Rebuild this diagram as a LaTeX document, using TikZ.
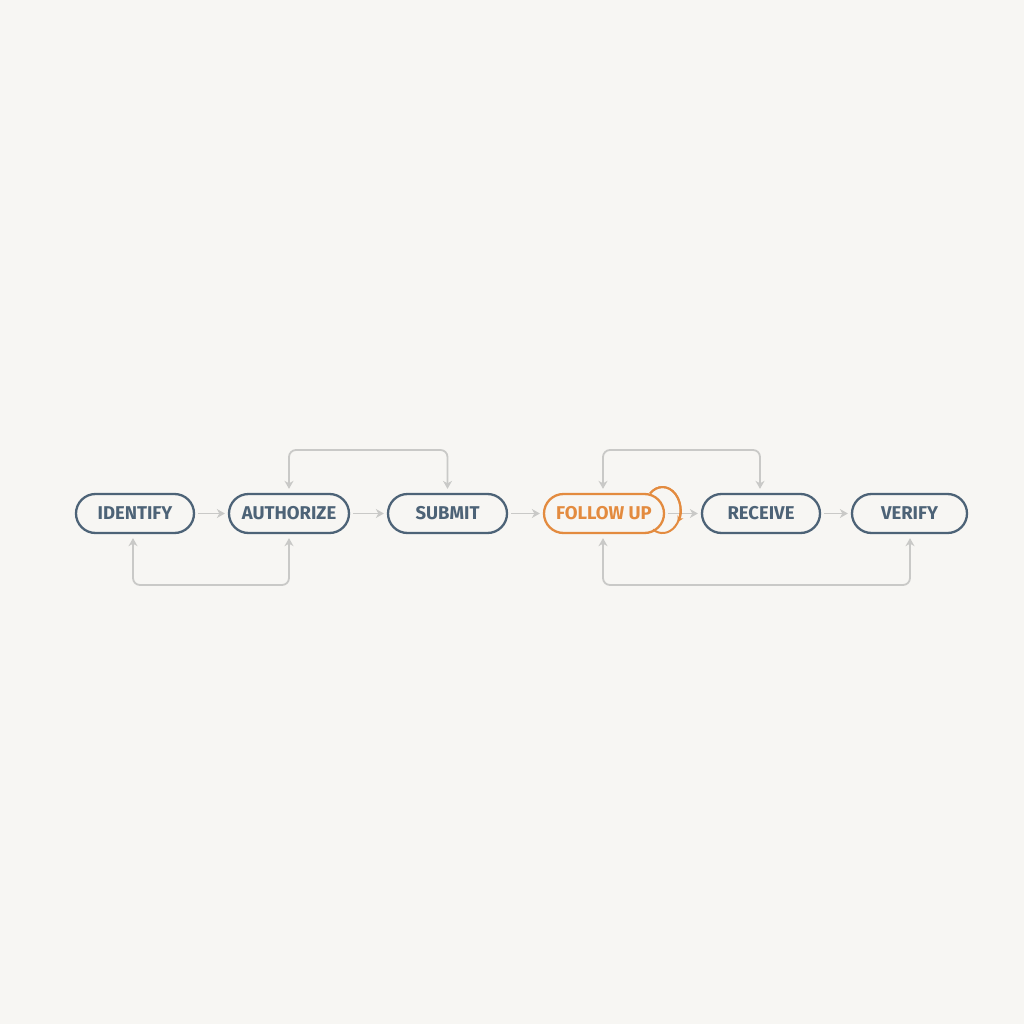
\documentclass[tikz,border=0pt]{standalone}
\usepackage{fontspec}
\setmainfont{Fira Sans}
\usetikzlibrary{arrows.meta}
\definecolor{bg}{HTML}{F7F6F3}
\definecolor{slate}{HTML}{4D6377}
\definecolor{accent}{HTML}{E38B3F}
\definecolor{conn}{HTML}{C9C9C7}
\tikzset{
  stepbox/.style={draw=slate, line width=2.3pt, rounded corners=19.5pt, fill=bg,
    minimum height=39pt, inner sep=0pt, text=slate, font=\fontsize{18.5}{20}\selectfont\bfseries},
  hot/.style={stepbox, draw=accent, text=accent},
  tip/.style={Stealth[length=8pt,width=9pt,inset=2.5pt]},
  flow/.style={draw=conn, line width=1.8pt, -{Stealth[length=8pt,width=9pt,inset=2.5pt]}, shorten <=3pt, shorten >=3pt},
  loop2/.style={draw=conn, line width=1.8pt, {Stealth[length=8pt,width=9pt,inset=2.5pt]}-{Stealth[length=8pt,width=9pt,inset=2.5pt]}, rounded corners=7pt, shorten <=4pt, shorten >=4pt}
}
\begin{document}
\begin{tikzpicture}[x=1pt,y=-1pt]
\path[fill=bg] (0,0) rectangle (1024,1024);
\useasboundingbox (0,0) rectangle (1024,1024);
\node[stepbox, minimum width=118pt] (ident) at (135,513.5) {IDENTIFY};
\node[stepbox, minimum width=120pt] (auth) at (289,513.5) {AUTHORIZE};
\node[stepbox, minimum width=119pt] (submit) at (447.5,513.5) {SUBMIT};
\node[hot, minimum width=120pt] (follow) at (604,513.5) {FOLLOW UP};
\node[stepbox, minimum width=118pt] (receive) at (761,513.5) {RECEIVE};
\node[stepbox, minimum width=115pt] (verify) at (909.5,513.5) {VERIFY};
% straight flow
\draw[flow] (ident) -- (auth);
\draw[flow] (auth) -- (submit);
\draw[flow] (submit) -- (follow);
\draw[flow] (follow) -- (receive);
\draw[flow] (receive) -- (verify);
% loops
\coordinate (t1) at (289,450);
\coordinate (t2) at (447.5,450);
\draw[loop2] (auth.north) -- (t1) -- (t2) -- (submit.north);
\coordinate (b1) at (133,585);
\coordinate (b2) at (289,585);
\draw[loop2] ([xshift=-2pt]ident.south) -- (b1) -- (b2) -- (auth.south);
\coordinate (t3) at (603,450);
\coordinate (t4) at (760,450);
\draw[loop2] ([xshift=-1pt]follow.north) -- (t3) -- (t4) -- ([xshift=-1pt]receive.north);
\coordinate (b3) at (603,585);
\coordinate (b4) at (910,585);
\draw[loop2] ([xshift=-1pt]follow.south) -- (b3) -- (b4) -- ([xshift=0.5pt]verify.south);
% self loop
\coordinate (s0) at (650,493.5);
\draw[accent, line width=2pt] (s0) arc[start angle=226, end angle=482, x radius=18, y radius=23];
\draw[accent, line width=2pt, -{Stealth[length=6pt,width=6.5pt]}] (s0) arc[start angle=226, end angle=392, x radius=18, y radius=23];
\end{tikzpicture}
\end{document}
